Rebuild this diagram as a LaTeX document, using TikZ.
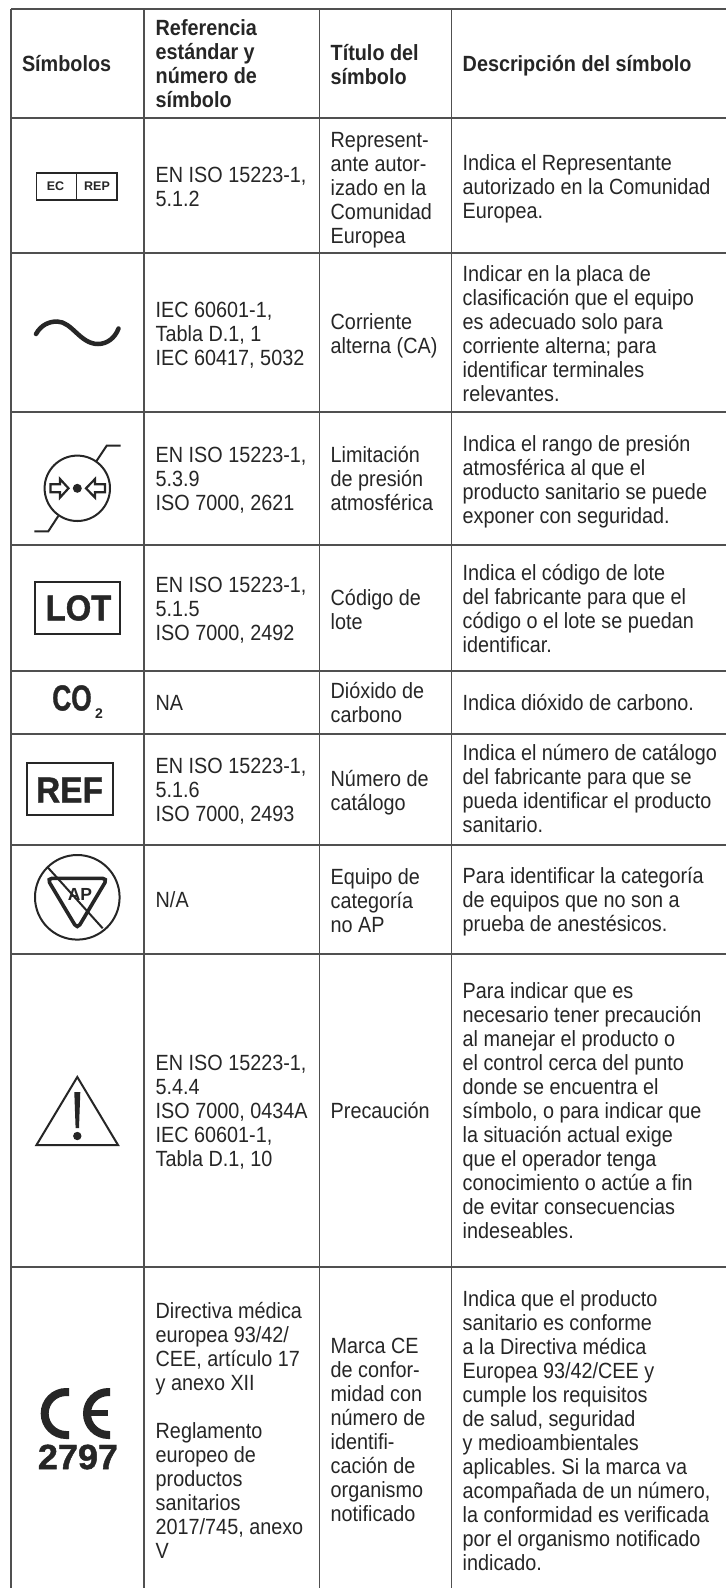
\documentclass[tikz,border=0pt]{standalone}
\usepackage{fontspec}
\usepackage{graphicx}
\setmainfont{Liberation Sans}
\newfontfamily\tallfont[FakeStretch=0.9]{Liberation Sans}
\newfontfamily\heavyfont[BoldFeatures={FakeBold=1.2}]{Liberation Sans}
\definecolor{inkc}{HTML}{262626}
\definecolor{rulec}{HTML}{505050}
\tikzset{
  txt/.style={anchor=north west,align=left,inner sep=0pt,outer sep=0pt,text=inkc,yshift=16.8pt,
    font=\tallfont\frenchspacing\fontsize{22}{24}\selectfont},
  hdr/.style={txt,font=\tallfont\bfseries\fontsize{22}{24}\selectfont},
  gridline/.style={draw=rulec,line width=1.4pt},
  sym/.style={draw=inkc,line width=2pt},
  symtxt/.style={inner sep=0pt,outer sep=0pt,text=inkc,font=\bfseries},
}
\newcommand\cell[5][txt]{\node[#1] (#2) at (#3,#4) {\strut #5};}
\begin{document}
\begin{tikzpicture}[x=1pt,y=-1pt]
\useasboundingbox (0,0) rectangle (726,1588);
\fill[white] (0,0) rectangle (726,1588);
% grid
\foreach \yy in {9,118,253,412,545,671,734,845,954,1267} \draw[gridline] (11,\yy) -- (726,\yy);
\foreach \xx in {11,144,319.7,451.7} \draw[gridline] (\xx,9) -- (\xx,1588);
% header
\cell[hdr]{h1}{22}{71.5}{Símbolos}
\cell[hdr]{h2}{155.7}{35}{Referencia\\estándar y\\número de\\símbolo}
\cell[hdr]{h3}{330.7}{60}{Título del\\símbolo}
\cell[hdr]{h4}{462.7}{71.5}{Descripción del símbolo}
% row 1
\cell{b1}{155.7}{182}{EN ISO 15223-1,\\5.1.2}
\cell{c1}{330.7}{147}{Represent-\\ante autor-\\izado en la\\Comunidad\\Europea}
\cell{d1}{462.7}{170}{Indica el Representante\\autorizado en la Comunidad\\Europea.}
% row 2
\cell{b2}{155.7}{317}{IEC 60601-1,\\Tabla D.1, 1\\IEC 60417, 5032}
\cell{c2}{330.7}{329.5}{Corriente\\alterna (CA)}
\cell{d2}{462.7}{281}{Indicar en la placa de\\clasificación que el equipo\\es adecuado solo para\\corriente alterna; para\\identificar terminales\\relevantes.}
% row 3
\cell{b3}{155.7}{462.7}{EN ISO 15223-1,\\5.3.9\\ISO 7000, 2621}
\cell{c3}{330.7}{462.7}{Limitación\\de presión\\atmosférica}
\cell{d3}{462.7}{451}{Indica el rango de presión\\atmosférica al que el\\producto sanitario se puede\\exponer con seguridad.}
% row 4
\cell{b4}{155.7}{592.7}{EN ISO 15223-1,\\5.1.5\\ISO 7000, 2492}
\cell{c4}{330.7}{605}{Código de\\lote}
\cell{d4}{462.7}{580.7}{Indica el código de lote\\del fabricante para que el\\código o el lote se puedan\\identificar.}
% row 5
\cell{b5}{155.7}{710.7}{NA}
\cell{c5}{330.7}{698}{Dióxido de\\carbono}
\cell{d5}{462.7}{710.7}{Indica dióxido de carbono.}
% row 6
\cell{b6}{155.7}{773}{EN ISO 15223-1,\\5.1.6\\ISO 7000, 2493}
\cell{c6}{330.7}{786}{Número de\\catálogo}
\cell{d6}{462.7}{760.7}{Indica el número de catálogo\\del fabricante para que se\\pueda identificar el producto\\sanitario.}
% row 7
\cell{b7}{155.7}{907}{N/A}
\cell{c7}{330.7}{884}{Equipo de\\categoría\\no AP}
\cell{d7}{462.7}{883}{Para identificar la categoría\\de equipos que no son a\\prueba de anestésicos.}
% row 8
\cell{b8}{155.7}{1070}{EN ISO 15223-1,\\5.4.4\\ISO 7000, 0434A\\IEC 60601-1,\\Tabla D.1, 10}
\cell{c8}{330.7}{1118}{Precaución}
\cell{d8}{462.7}{998}{Para indicar que es\\necesario tener precaución\\al manejar el producto o\\el control cerca del punto\\donde se encuentra el\\símbolo, o para indicar que\\la situación actual exige\\que el operador tenga\\conocimiento o actúe a fin\\de evitar consecuencias\\indeseables.}
% row 9
\cell{b9}{155.7}{1318}{Directiva médica\\europea 93/42/\\CEE, artículo 17\\y anexo XII\\[24pt]Reglamento\\europeo de\\productos\\sanitarios\\2017/745, anexo\\V}
\cell{c9}{330.7}{1353}{Marca CE\\de confor-\\midad con\\número de\\identifi-\\cación de\\organismo\\notificado}
\cell{d9}{462.7}{1306}{Indica que el producto\\sanitario es conforme\\a la Directiva médica\\Europea 93/42/CEE y\\cumple los requisitos\\de salud, seguridad\\y medioambientales\\aplicables. Si la marca va\\acompañada de un número,\\la conformidad es verificada\\por el organismo notificado\\indicado.}
% symbols: EC REP
\draw[draw=inkc,line width=1.1pt] (36.7,173) rectangle (117,200) (76.7,173) -- (76.7,200);
\node[symtxt,font=\bfseries\fontsize{12.5}{14}\selectfont] (ec) at (55.5,186.5) {EC};
\node[symtxt,font=\bfseries\fontsize{12.5}{14}\selectfont] (rep) at (97,186.5) {REP};
% AC
\draw[inkc,line width=4.5pt,line cap=round] (36,334) .. controls (41,325) and (49,321.5) .. (57,321.5) .. controls (72,321.5) and (80,344) .. (98,344) .. controls (107,344) and (115,338) .. (118.5,328.5);
% pressure
\draw[sym] (77.3,488.3) circle[radius=32.7];
\draw[sym] (96,461.7) -- (106.7,445.7) -- (120.7,445.7);
\draw[sym] (58.3,516) -- (48.3,531.3) -- (34.3,531.3);
\fill[inkc] (77.3,488.3) circle[radius=4.5];
\draw[sym,line join=miter,line width=2.2pt] (50.5,484.3) -- (60,484.3) -- (60,479) -- (68.5,488.3) -- (60,497.6) -- (60,492.3) -- (50.5,492.3) -- cycle;
\draw[sym,line join=miter,line width=2.2pt] (105,484.3) -- (95,484.3) -- (95,479) -- (86,488.3) -- (95,497.6) -- (95,492.3) -- (105,492.3) -- cycle;
% LOT
\draw[sym,line width=2.2pt] (34.7,581.7) rectangle (120,634.3);
\node[symtxt,font=\heavyfont\bfseries\fontsize{36}{40}\selectfont] (lot) at (78.5,608) {\scalebox{.91}[1]{LOT}};
% CO2
\node[symtxt,font=\heavyfont\bfseries\fontsize{36}{40}\selectfont] (co) at (72,698) {\scalebox{.73}[1]{CO}};
\node[symtxt,font=\bfseries\fontsize{14}{16}\selectfont] (two) at (99,714) {2};
% REF
\draw[sym,line width=2.2pt] (27.3,762.7) rectangle (112.7,815.3);
\node[symtxt,font=\heavyfont\bfseries\fontsize{36}{40}\selectfont] (ref) at (69.5,790) {\scalebox{.93}[1]{REF}};
% AP
\draw[sym] (77.3,897.3) circle[radius=42.3];
\draw[inkc,line width=3.6pt,rounded corners=5pt] (77,878.3) -- (107.5,878.3) -- (77.3,929) -- (47,878.3) -- cycle;
\draw[sym] (47.7,867.3) -- (102.7,928.3);
\node[symtxt,font=\bfseries\fontsize{17.5}{20}\selectfont] (ap) at (80,894.5) {AP};
% caution
\draw[sym,line join=miter] (77.3,1077) -- (118,1145) -- (36.5,1145) -- cycle;
\fill[inkc] (74.3,1092) -- (80.3,1092) -- (79,1128) -- (75.6,1128) -- cycle;
\fill[inkc] (77.3,1136) circle[radius=4.2];
% CE
\draw[inkc,line width=8pt] (69,1392) -- (66.2,1392) .. controls (54.3,1392) and (44.7,1401.6) .. (44.7,1413.5) .. controls (44.7,1425.4) and (54.3,1435) .. (66.2,1435) -- (69,1435);
\draw[inkc,line width=8pt] (110,1392) -- (108.5,1392) .. controls (96.6,1392) and (87,1401.6) .. (87,1413.5) .. controls (87,1425.4) and (96.6,1435) .. (108.5,1435) -- (110,1435);
\draw[inkc,line width=6.5pt] (87,1413) -- (108,1413);
\node[symtxt,font=\heavyfont\bfseries\fontsize{35}{38}\selectfont] (num) at (78,1457) {\scalebox{1.03}[1]{2797}};
\end{tikzpicture}
\end{document}
